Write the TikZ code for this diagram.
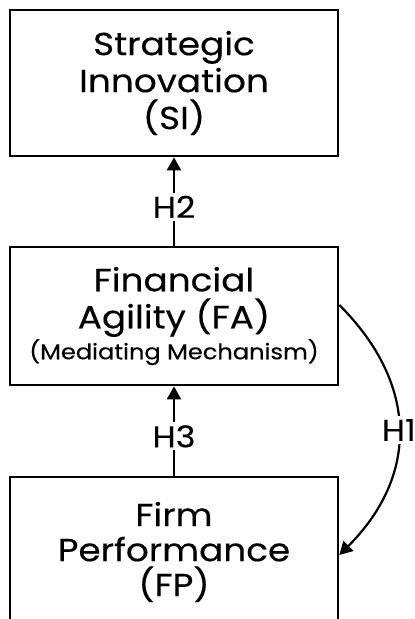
\documentclass[tikz,border=0pt]{standalone}
\usepackage{fontspec}
\setmainfont{Poppins}[FakeStretch=1.12, FakeBold=0.3]
\usetikzlibrary{arrows.meta,positioning}
\tikzset{
  varbox/.style={draw, line width=2.7pt, minimum width=328pt, inner sep=0pt,
    align=center, font=\fontsize{32}{37}\selectfont},
  hyp/.style={fill=white, inner sep=3pt, font=\fontsize{30}{32}\selectfont},
  link/.style={line width=2.2pt, -{Triangle[length=13pt,width=14pt]}}
}
\begin{document}
\begin{tikzpicture}[x=1pt,y=1pt]
\useasboundingbox (0,0) rectangle (415,619);
\clip (0,0) rectangle (415,619);
\fill[white] (0,0) rectangle (415,619);
\node[varbox, minimum height=146pt] (si) at (174,536) {Strategic\\Innovation\\(SI)};
\node[varbox, minimum height=138pt] (fa) at (174,303)
  {Financial\\Agility (FA)\\[-6pt]{\fontsize{21.5}{24}\selectfont (Mediating Mechanism)}};
\node[varbox, minimum height=150pt] (fp) at (174,67) {Firm\\[-2pt]Performance\\[-2pt](FP)};
% hypothesised paths
\draw[link] (fa.north) -- node[hyp, pos=0.44] (h2) {H2} (si.south);
\draw[link] (fp.north) -- node[hyp, pos=0.44] (h3) {H3} (fa.south);
\draw[link] ([yshift=11pt]fa.east) to[out=-45, in=45, looseness=1.15]
  node[hyp, pos=0.5] (h1) {H1} ([yshift=-3pt]fp.east);
\end{tikzpicture}
\end{document}
